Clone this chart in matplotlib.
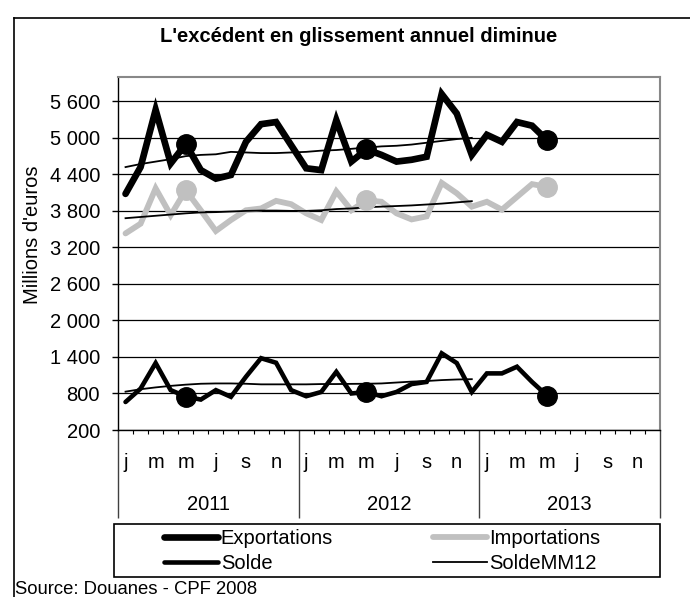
import numpy as np
import matplotlib
matplotlib.use('Agg')
import matplotlib.pyplot as plt
from matplotlib.patches import Rectangle
from matplotlib.lines import Line2D

plt.rcParams['font.family'] = ['Liberation Sans', 'DejaVu Sans']

# donnees mensuelles, janvier 2011 -> mai 2013 (millions d'euros)
exportations = [4080, 4520, 5460, 4580, 4900, 4470, 4330, 4390, 4935, 5225,
                5260, 4880, 4500, 4470, 5290, 4610, 4810, 4720, 4610, 4640,
                4690, 5720, 5400, 4720, 5050, 4935, 5260, 5200, 4960]
importations = [3430, 3590, 4170, 3730, 4140, 3810, 3470, 3650, 3810, 3840,
                3965, 3910, 3760, 3650, 4120, 3810, 3975, 3950, 3760, 3660,
                3710, 4260, 4090, 3870, 3950, 3820, 4030, 4240, 4195]
solde = [660, 880, 1300, 855, 750, 700, 855, 745, 1075, 1380,
         1305, 855, 755, 825, 1155, 800, 825, 755, 825, 955,
         990, 1460, 1300, 825, 1130, 1130, 1240, 990, 765]
# moyennes mobiles sur 12 mois (jusqu'a decembre 2012)
exportations_mm12 = [4520, 4570, 4610, 4650, 4700, 4720, 4730, 4770, 4760, 4750,
                     4750, 4760, 4770, 4790, 4800, 4820, 4840, 4860, 4870, 4890,
                     4920, 4950, 4980, 5000]
importations_mm12 = [3680, 3700, 3720, 3740, 3760, 3775, 3780, 3790, 3800, 3805,
                     3805, 3800, 3800, 3810, 3830, 3840, 3860, 3870, 3880, 3890,
                     3905, 3920, 3940, 3960]
solde_mm12 = [830, 870, 900, 925, 945, 960, 965, 965, 960, 950,
              950, 950, 950, 955, 955, 958, 960, 965, 980, 995,
              1005, 1020, 1030, 1035]
mois_labels = ['j', 'm', 'm', 'j', 's', 'n']
annees = ['2011', '2012', '2013']
points_mai = [4, 16, 28]
y_ticks = [200, 800, 1400, 2000, 2600, 3200, 3800, 4400, 5000, 5600]

W, H = 690, 597
fig = plt.figure(figsize=(W / 100, H / 100), dpi=100)
ax = fig.add_axes([118 / W, 1 - 430 / H, 542 / W, 353 / H])

x = np.arange(len(exportations)) + 0.5
x12 = np.arange(len(solde_mm12)) + 0.5
gris = '#c0c0c0'

ax.plot(x, exportations, color='black', lw=4.8, solid_capstyle='round',
        solid_joinstyle='miter', label='Exportations', zorder=3)
ax.plot(x, importations, color=gris, lw=4.2, solid_capstyle='round',
        solid_joinstyle='miter', label='Importations', zorder=3)
ax.plot(x, solde, color='black', lw=3.3, solid_capstyle='round',
        solid_joinstyle='miter', label='Solde', zorder=3)
ax.plot(x12, exportations_mm12, color='black', lw=1.3, zorder=4, label='_nolegend_')
ax.plot(x12, importations_mm12, color='black', lw=1.3, zorder=4, label='_nolegend_')
ax.plot(x12, solde_mm12, color='black', lw=1.3, zorder=4, label='SoldeMM12')

# gros points sur le mois de mai
idx = np.array(points_mai)
ax.plot(x[idx], np.array(exportations)[idx], 'o', color='black', ms=14, zorder=5)
ax.plot(x[idx], np.array(importations)[idx], 'o', color=gris, ms=14, zorder=5)
ax.plot(x[idx], np.array(solde)[idx], 'o', color='black', ms=14, zorder=5)

ax.set_xlim(0, 36)
ax.set_ylim(200, 6000)
ax.set_yticks(y_ticks)
ax.set_yticklabels([f'{v:,}'.replace(',', ' ') for v in y_ticks], fontsize=14.5)
ax.yaxis.grid(True, color='black', lw=0.9)
ax.set_axisbelow(True)
ax.tick_params(axis='y', direction='out', length=4, width=1, pad=9)

ax.set_xticks([0, 12, 24, 36])
ax.set_xticklabels([])
ax.set_xticks(np.arange(37), minor=True)
ax.tick_params(axis='x', which='major', direction='out', length=63.5, width=1, color='#404040')
ax.tick_params(axis='x', which='minor', direction='out', length=3, width=0.8)

for s in ['top', 'right']:
    ax.spines[s].set_color('#888888')
    ax.spines[s].set_linewidth(1.5)
ax.spines['left'].set_linewidth(1)
ax.spines['bottom'].set_linewidth(1)

# etiquettes mois et annees
tr = ax.get_xaxis_transform()
y_mois = -(463 - 430) / 353
y_an = -(505 - 430) / 353
for a, an in enumerate(annees):
    for k, m in enumerate(mois_labels):
        ax.text(12 * a + 2 * k + 0.5, y_mois, m, transform=tr, ha='center',
                va='center', fontsize=14.5)
    ax.text(12 * a + 6, y_an, an, transform=tr, ha='center', va='center',
            fontsize=14.5)

fig.text(32 / W, 1 - 235 / H, "Millions d'euros", rotation=90, ha='center',
         va='center', fontsize=14.5)
fig.text(0.5 * (160 + 558) / W, 1 - 36 / H, "L'excédent en glissement annuel diminue",
         ha='center', va='center', fontsize=14.5, fontweight='bold')
fig.text(15 / W, 1 - 590 / H, 'Source: Douanes - CPF 2008', ha='left',
         va='center', fontsize=13.3)

# cadre exterieur
fig.add_artist(Line2D([13.5 / W, 13.5 / W], [0, 1 - 18 / H], color='black', lw=1.2))
fig.add_artist(Line2D([13.5 / W, 1], [1 - 18 / H, 1 - 18 / H], color='black', lw=1.2))

# legende
h, l = ax.get_legend_handles_labels()
order = [l.index('Exportations'), l.index('Solde'), l.index('Importations'), l.index('SoldeMM12')]
leg = ax.legend([h[i] for i in order], [l[i] for i in order], ncol=2, frameon=False,
                loc='upper left', bbox_to_anchor=(164 / W, 1 - 529 / H),
                bbox_transform=fig.transFigure, fontsize=14.5, borderpad=0,
                borderaxespad=0, handlelength=2.7, handletextpad=0.12,
                columnspacing=4.95, labelspacing=0.28)
fig.add_artist(Rectangle((114 / W, 1 - 577 / H), 546 / W, 53 / H, fill=False,
                         edgecolor='black', lw=1.2, transform=fig.transFigure))

fig.savefig('out.png', dpi=100)
